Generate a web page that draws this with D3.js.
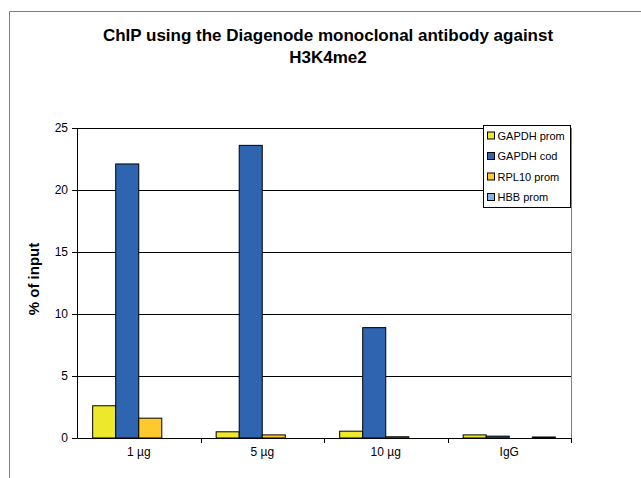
<!DOCTYPE html>
<html>
<head>
<meta charset="utf-8">
<script src="https://cdn.jsdelivr.net/npm/d3@7"></script>
<style>
  body { margin: 0; background: #fff; overflow: hidden; }
  svg { display: block; }
  text { font-family: Arial, "Liberation Sans", sans-serif; }
</style>
</head>
<body>
<svg width="641" height="478"></svg>
<script>
  const categories = ['1 µg', '5 µg', '10 µg', 'IgG'];
  const seriesNames = ['GAPDH prom', 'GAPDH cod', 'RPL10 prom', 'HBB prom'];
  const gapdhProm = [2.6, 0.5, 0.55, 0.25];
  const gapdhCod = [22.1, 23.6, 8.9, 0.15];
  const rpl10Prom = [1.6, 0.25, 0.1, 0];
  const hbbProm = [0, 0, 0, 0.08];
  const yTicks = [0, 5, 10, 15, 20, 25];
  const colors = ['#EEE82C', '#2E64B0', '#FFC82C', '#7EB6E6'];

  const series = [gapdhProm, gapdhCod, rpl10Prom, hbbProm];

  const svg = d3.select('svg');
  const margin = { top: 128, left: 77, right: 70, bottom: 40 };
  const innerWidth = 571 - margin.left;
  const innerHeight = 438 - margin.top;

  // outer chart border (only left and top edges are inside the window)
  svg.append('path')
      .attr('d', 'M9.5,478V11.5H641')
      .attr('fill', 'none')
      .attr('stroke', '#808080');

  svg.append('text')
      .attr('x', 328).attr('y', 41)
      .attr('text-anchor', 'middle')
      .style('font-size', '17px')
      .style('font-weight', 'bold')
      .text('ChIP using the Diagenode monoclonal antibody against');
  svg.append('text')
      .attr('x', 328).attr('y', 63)
      .attr('text-anchor', 'middle')
      .style('font-size', '17px')
      .style('font-weight', 'bold')
      .text('H3K4me2');

  const g = svg.append('g')
      .attr('transform', `translate(${margin.left},${margin.top})`);

  const xScale = d3.scaleBand()
      .domain(categories)
      .range([0, innerWidth]);

  const xInner = d3.scaleBand()
      .domain(seriesNames)
      .range([0, xScale.bandwidth()])
      .paddingOuter(0.68)
      .paddingInner(0);

  const yScale = d3.scaleLinear()
      .domain([0, 25])
      .range([innerHeight, 0]);

  // gridlines
  g.selectAll('.grid').data(yTicks.filter(d => d > 0))
    .enter().append('line')
      .attr('x1', 0).attr('x2', innerWidth)
      .attr('y1', d => Math.round(yScale(d)) + 0.5)
      .attr('y2', d => Math.round(yScale(d)) + 0.5)
      .attr('stroke', '#000');

  // plot area right border
  g.append('line')
      .attr('x1', innerWidth + 0.5).attr('x2', innerWidth + 0.5)
      .attr('y1', 0).attr('y2', innerHeight)
      .attr('stroke', '#808080');

  // bars
  categories.forEach((c, i) => {
    series.forEach((s, j) => {
      if (s[i] <= 0) return;
      g.append('rect')
          .attr('x', xScale(c) + xInner(seriesNames[j]))
          .attr('y', yScale(s[i]))
          .attr('width', xInner.bandwidth())
          .attr('height', innerHeight - yScale(s[i]))
          .attr('fill', colors[j])
          .attr('stroke', '#000')
          .attr('stroke-width', 1);
    });
  });

  const yAxis = d3.axisLeft(yScale)
      .tickValues(yTicks)
      .tickSize(5)
      .tickPadding(4)
      .tickFormat(d3.format('d'));
  const yAxisG = g.append('g').call(yAxis);
  yAxisG.selectAll('text').style('font-size', '12px').attr('fill', '#000');
  yAxisG.select('.domain').attr('stroke', '#000');

  const xAxis = d3.axisBottom(xScale)
      .tickSize(0)
      .tickPadding(9);
  const xAxisG = g.append('g')
      .attr('transform', `translate(0,${innerHeight})`)
      .call(xAxis);
  xAxisG.select('.domain').attr('stroke', '#000');
  xAxisG.selectAll('text').style('font-size', '12px').attr('fill', '#000');

  // category separator ticks
  g.selectAll('.xtick').data(categories)
    .enter().append('line')
      .attr('x1', d => Math.round(xScale(d) + xScale.bandwidth()) + 0.5)
      .attr('x2', d => Math.round(xScale(d) + xScale.bandwidth()) + 0.5)
      .attr('y1', innerHeight).attr('y2', innerHeight + 5)
      .attr('stroke', '#000');

  svg.append('text')
      .attr('transform', 'translate(39,279) rotate(-90)')
      .attr('text-anchor', 'middle')
      .style('font-size', '15px')
      .style('font-weight', 'bold')
      .text('% of input');

  // legend
  const legend = svg.append('g').attr('transform', 'translate(483.5,125.5)');
  legend.append('rect')
      .attr('width', 87).attr('height', 82)
      .attr('fill', '#fff')
      .attr('stroke', '#000');
  seriesNames.forEach((name, j) => {
    const row = legend.append('g').attr('transform', `translate(4,${10 + j * 20.5})`);
    row.append('rect')
        .attr('x', 0).attr('y', -3.5)
        .attr('width', 7).attr('height', 7)
        .attr('fill', colors[j])
        .attr('stroke', '#000');
    row.append('text')
        .attr('x', 10).attr('y', 4)
        .style('font-size', '11px')
        .text(name);
  });
</script>
</body>
</html>
